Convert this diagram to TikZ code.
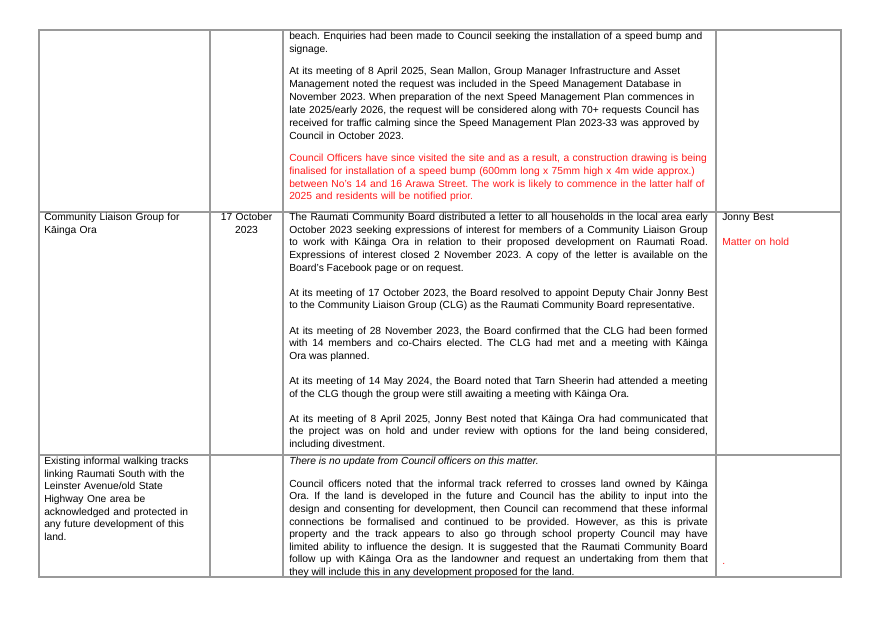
\documentclass[tikz,border=0pt]{standalone}
\usepackage{fontspec}
\setmainfont{Liberation Sans}
\usepackage{xcolor}
\usetikzlibrary{positioning}
\definecolor{gridgray}{HTML}{9A9A9A}
\definecolor{notered}{HTML}{FF1A1A}
\newcommand{\cellfont}{\fontsize{7.7pt}{9.45pt}\selectfont\frenchspacing}
\tikzset{
  rule/.style={draw=gridgray,line width=0.8pt},
  cell/.style={anchor=north west,inner sep=0pt,font=\cellfont},
  bodycell/.style={cell,text width=314pt,align=justify},
  ragcell/.style={cell,text width=320pt,align=left},
}
\begin{document}
\begin{tikzpicture}[x=0.75pt,y=-0.75pt]
\useasboundingbox (0,0) rectangle (885,626);
% grid
\coordinate (tl) at (39,30);
\coordinate (br) at (841,577);
\draw[rule] (tl) rectangle (br);
\foreach \xcol in {210,283,716} \draw[rule] (\xcol,30) -- (\xcol,577);
\draw[rule] (39,212) -- (841,212);
\draw[rule,line width=1.4pt] (39,455) -- (841,455);
% row 1
\node[ragcell] (rowa) at (289,31.5) {\fontsize{7.7pt}{9.7pt}\selectfont beach. Enquiries had been made to Council seeking the installation of a speed bump and\\
signage.\par\vspace{7pt}
At its meeting of 8 April 2025, Sean Mallon, Group Manager Infrastructure and Asset\\
Management noted the request was included in the Speed Management Database in\\
November 2023. When preparation of the next Speed Management Plan commences in\\
late 2025/early 2026, the request will be considered along with 70+ requests Council has\\
received for traffic calming since the Speed Management Plan 2023-33 was approved by\\
Council in October 2023.\par\vspace{7pt}
\color{notered}Council Officers have since visited the site and as a result, a construction drawing is being\\
finalised for installation of a speed bump (600mm long x 75mm high x 4m wide approx.)\\
between No's 14 and 16 Arawa Street. The work is likely to commence in the latter half of\\
2025 and residents will be notified prior.};
% row 2
\node[cell,text width=160pt,align=left] (topica) at (44,213) {Community Liaison Group for\\Kāinga Ora};
\node[cell,anchor=north,text width=50pt,align=center] (datea) at (246.5,213) {17 October\\2023};
\node[bodycell] (rowb) at (289,213) {The Raumati Community Board distributed a letter to all households in the local area early\linebreak
October 2023 seeking expressions of interest for members of a Community Liaison Group\linebreak
to work with Kāinga Ora in relation to their proposed development on Raumati Road.\linebreak
Expressions of interest closed 2 November 2023. A copy of the letter is available on the\linebreak
Board's Facebook page or on request.\par\vspace{9.45pt}
At its meeting of 17 October 2023, the Board resolved to appoint Deputy Chair Jonny Best\linebreak
to the Community Liaison Group (CLG) as the Raumati Community Board representative.\par\vspace{9.45pt}
At its meeting of 28 November 2023, the Board confirmed that the CLG had been formed\linebreak
with 14 members and co-Chairs elected. The CLG had met and a meeting with Kāinga\linebreak
Ora was planned.\par\vspace{9.45pt}
At its meeting of 14 May 2024, the Board noted that Tarn Sheerin had attended a meeting\linebreak
of the CLG though the group were still awaiting a meeting with Kāinga Ora.\par\vspace{9.45pt}
At its meeting of 8 April 2025, Jonny Best noted that Kāinga Ora had communicated that\linebreak
the project was on hold and under review with options for the land being considered,\linebreak
including divestment.};
\node[cell,text width=90pt,align=left] (owner) at (722,213) {Jonny Best\par\vspace{9.45pt}\color{notered}Matter on hold};
% row 3
\node[cell,text width=160pt,align=left] (topicb) at (44,457) {Existing informal walking tracks\\
linking Raumati South with the\\
Leinster Avenue/old State\\
Highway One area be\\
acknowledged and protected in\\
any future development of this\\
land.};
\node[bodycell] (rowc) at (289,457) {\fontsize{7.7pt}{9.05pt}\selectfont\textit{There is no update from Council officers on this matter.}\par\vspace{7.5pt}
Council officers noted that the informal track referred to crosses land owned by Kāinga\linebreak
Ora. If the land is developed in the future and Council has the ability to input into the\linebreak
design and consenting for development, then Council can recommend that these informal\linebreak
connections be formalised and continued to be provided. However, as this is private\linebreak
property and the track appears to also go through school property Council may have\linebreak
limited ability to influence the design. It is suggested that the Raumati Community Board\linebreak
follow up with Kāinga Ora as the landowner and request an undertaking from them that\linebreak
they will include this in any development proposed for the land.};
\node[cell,text=notered] (mark) at (722,563) {.};
\end{tikzpicture}
\end{document}
